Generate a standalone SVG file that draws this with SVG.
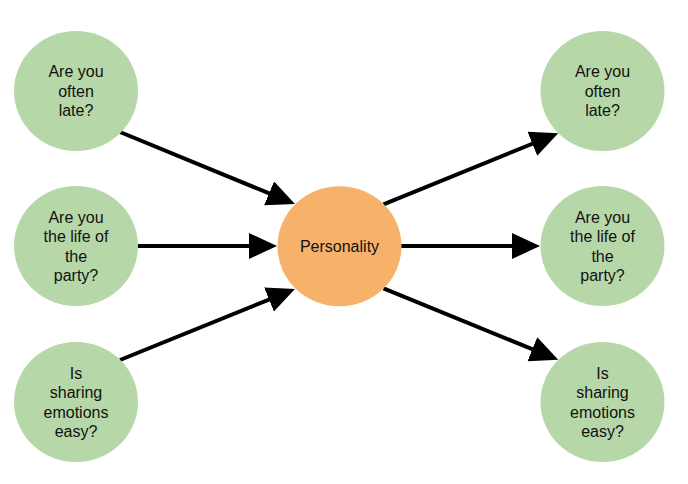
<svg xmlns="http://www.w3.org/2000/svg" width="688" height="484" viewBox="0 0 688 484">
<defs>
<style>
.q{fill:#b6d7a8}
.c{fill:#f6b26b}
text{font-family:"Liberation Sans",Arial,sans-serif;font-size:16px;fill:#111;text-anchor:middle}
.e{fill:none;stroke:#000;stroke-width:4;marker-end:url(#ah)}
</style>
<marker id="ah" markerUnits="userSpaceOnUse" markerWidth="30" markerHeight="28" refX="18" refY="13" orient="auto">
<path d="M0,0 L28,13 L0,26 z" fill="#000"/>
</marker>
</defs>
<rect width="688" height="484" fill="#fff"/>
<g id="connectors">
<path class="e" d="M120,132 L285.7,200.2"/>
<path class="e" d="M138,246 L267,246"/>
<path class="e" d="M120,360 L285.7,292.8"/>
<path class="e" d="M383.5,204.3 L549,137"/>
<path class="e" d="M401,246 L530,246"/>
<path class="e" d="M383.5,288.3 L549,356"/>
</g>
<g id="in1"><ellipse class="q" cx="76" cy="91" rx="62" ry="60"/><text x="76" y="77">Are you</text><text x="76" y="96.5">often</text><text x="76" y="116">late?</text></g>
<g id="in2"><ellipse class="q" cx="76" cy="246" rx="62" ry="60"/><text x="76" y="222.5">Are you</text><text x="76" y="242">the life of</text><text x="76" y="261.5">the</text><text x="76" y="281">party?</text></g>
<g id="in3"><ellipse class="q" cx="76" cy="402" rx="62" ry="60"/><text x="76" y="378.5">Is</text><text x="76" y="398">sharing</text><text x="76" y="417.5">emotions</text><text x="76" y="437">easy?</text></g>
<g id="personality"><ellipse class="c" cx="339.5" cy="246.3" rx="62" ry="60"/><text x="339.5" y="251.5">Personality</text></g>
<g id="out1"><ellipse class="q" cx="602.5" cy="91" rx="62" ry="60"/><text x="602.5" y="77">Are you</text><text x="602.5" y="96.5">often</text><text x="602.5" y="116">late?</text></g>
<g id="out2"><ellipse class="q" cx="602.5" cy="246" rx="62" ry="60"/><text x="602.5" y="222.5">Are you</text><text x="602.5" y="242">the life of</text><text x="602.5" y="261.5">the</text><text x="602.5" y="281">party?</text></g>
<g id="out3"><ellipse class="q" cx="602.5" cy="402" rx="62" ry="60"/><text x="602.5" y="378.5">Is</text><text x="602.5" y="398">sharing</text><text x="602.5" y="417.5">emotions</text><text x="602.5" y="437">easy?</text></g>
</svg>
